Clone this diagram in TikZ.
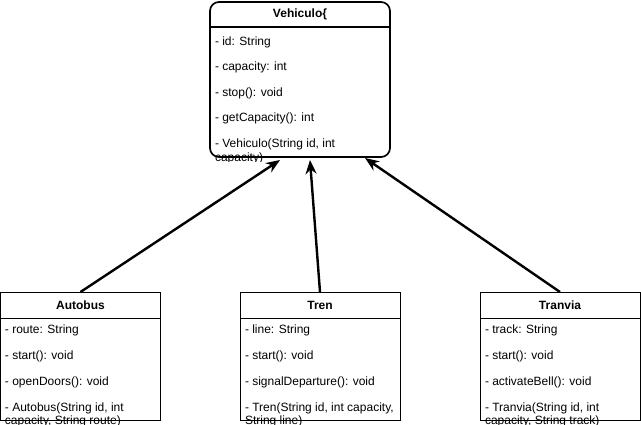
\documentclass[tikz,border=0pt]{standalone}
\usepackage{fontspec}
\setmainfont{Liberation Sans}
\usetikzlibrary{arrows.meta}

\begin{document}
\begin{tikzpicture}[x=1pt, y=-1pt, font=\fontsize{12}{14}\selectfont,
    every node/.style={inner sep=0pt, outer sep=0pt},
    classbox/.style={draw, line width=1pt, minimum width=160pt, minimum height=128pt, anchor=north west},
    member/.style={anchor=west},
    title/.style={font=\fontsize{12}{14}\selectfont\bfseries},
    inherit/.style={-{Stealth[length=14pt, width=11pt]}, line width=2.4pt}]
    \useasboundingbox (0,0) rectangle (641,424);

    % superclass
    \node[classbox, rounded corners=9pt, line width=1.7pt, minimum width=180pt, minimum height=155pt] (veh) at (210,2) {};
    \draw[line width=1.7pt] (210,27) -- (390,27);
    \node[title] (vehname) at (300,14) {Vehiculo\{};
    \node[member] (vehid) at (215,42) {- id: String};
    \node[member] (vehcap) at (215,67) {- capacity: int};
    \node[member] (vehstop) at (215,93) {- stop(): void};
    \node[member] (vehget) at (215,118) {- getCapacity(): int};
    \node[member] (vehctor) at (215,144) {- Vehiculo(String id, int};
    \begin{scope}
        \clip (205,150) rectangle (395,161);
        \node[member] (vehctorb) at (215,158) {capacity)};
    \end{scope}

    % subclasses
    \node[classbox] (autobus) at (0.5,292) {};
    \draw (0.5,318) -- (160.5,318);
    \node[title] (autobusname) at (80.5,305) {Autobus};
    \node[member] (autroute) at (5,330) {- route: String};
    \node[member] (autstart) at (5,356) {- start(): void};
    \node[member] (autdoors) at (5,382) {- openDoors(): void};
    \node[member] (autctor) at (5,408) {- Autobus(String id, int};
    \node[member] (autctorb) at (5,421) {capacity, String route)};

    \node[classbox] (tren) at (240,292) {};
    \draw (240,318) -- (400,318);
    \node[title] (trenname) at (320,305) {Tren};
    \node[member] (trenline) at (245,330) {- line: String};
    \node[member] (trenstart) at (245,356) {- start(): void};
    \node[member] (trensignal) at (245,382) {- signalDeparture(): void};
    \node[member] (trenctor) at (245,408) {- Tren(String id, int capacity,};
    \node[member] (trenctorb) at (245,421) {String line)};

    \node[classbox] (tranvia) at (480,292) {};
    \draw (480,318) -- (640,318);
    \node[title] (tranvianame) at (560,305) {Tranvia};
    \node[member] (trantrack) at (485,330) {- track: String};
    \node[member] (transtart) at (485,356) {- start(): void};
    \node[member] (tranbell) at (485,382) {- activateBell(): void};
    \node[member] (tranctor) at (485,408) {- Tranvia(String id, int};
    \node[member] (tranctorb) at (485,421) {capacity, String track)};

    % inheritance
    \draw[inherit] (autobus.north) -- ([xshift=-20pt, yshift=-3pt]veh.south);
    \draw[inherit] (tren.north) -- ([xshift=10pt, yshift=-3pt]veh.south);
    \draw[inherit] (tranvia.north) -- ([xshift=65pt, yshift=-1pt]veh.south);
\end{tikzpicture}
\end{document}
